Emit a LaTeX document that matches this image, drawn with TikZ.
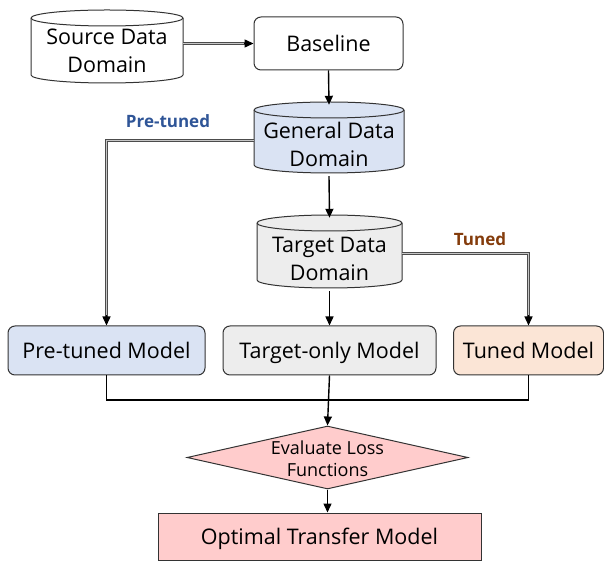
\documentclass[tikz,border=0pt]{standalone}
\usepackage{fontspec}
\setmainfont{Open Sans}
\usetikzlibrary{shapes.geometric,arrows.meta}
\definecolor{cblue}{HTML}{DAE3F3}
\definecolor{cgray}{HTML}{EDEDED}
\definecolor{corange}{HTML}{FBE5D6}
\definecolor{cpink}{HTML}{FFCCCC}
\definecolor{cdblue}{HTML}{2F5597}
\definecolor{cbrown}{HTML}{843C0C}
\tikzset{
  outl/.style={draw=black!80, line width=1pt},
  box/.style={outl, rounded corners=7pt, inner sep=0pt, font=\fontsize{21.5}{28}\selectfont, text height=18pt, text depth=2.6pt},
  cyltext/.style={inner sep=0pt, align=center, font=\fontsize{21.5}{28}\selectfont},
  tip/.style={-{Triangle[length=9pt,width=8pt]}},
  conn/.style={line width=1.4pt, draw=black},
  arr/.style={conn, tip},
  dbl/.style={draw=black!70, line width=1pt, double=gray!45, double distance=1.6pt, shorten >=8pt},
  lbl/.style={inner sep=0pt, font=\fontsize{17}{20}\selectfont\bfseries},
}
\newcommand\mycyl[8]{%
  \pgfmathsetmacro\rx{(#3-#2)/2}%
  \pgfmathsetmacro\cx{(#2+#3)/2}%
  \pgfmathsetmacro\cy{(#4-8+#5)/2+#8}%
  \pgfmathsetmacro\hh{#4-8-#5}%
  \pgfmathsetmacro\ww{#3-#2}%
  \path[outl, fill=#6] (#2,#4-8) -- (#2,#5+8)
     arc[start angle=180, end angle=360, x radius=\rx pt, y radius=8pt]
     -- (#3,#4-8)
     arc[start angle=0, end angle=180, x radius=\rx pt, y radius=8pt] -- cycle;
  \draw[outl] (#2,#4-8) arc[start angle=180, end angle=360, x radius=\rx pt, y radius=8pt];
  \node[cyltext, minimum width=\ww pt, minimum height=\hh pt] (#1) at (\cx,\cy) {#7};
}
\begin{document}
\begin{tikzpicture}[x=1pt,y=1pt]
\useasboundingbox (0,0) rectangle (604,562);
% cylinders
\mycyl{src}{31}{183}{552}{479}{white}{Source Data\\Domain}{0}
\mycyl{gen}{254}{404}{460}{389}{cblue}{General Data\\Domain}{-3}
\mycyl{tgt}{257}{402}{347}{274}{cgray}{Target Data\\Domain}{-3}
% boxes
\node[box, fill=white, minimum width=149pt, minimum height=53pt] (base) at (328.5,518.5) {Baseline};
\node[box, fill=cblue, minimum width=197pt, minimum height=49pt] (pre) at (106.5,211.5) {Pre-tuned Model};
\node[box, fill=corange, minimum width=150pt, minimum height=49pt] (tuned) at (528.5,211.5) {Tuned Model};
\node[box, fill=cgray, minimum width=213pt, minimum height=49pt] (tonly) at (329.5,211.5) {Target-only Model};
\node[outl, fill=cpink, diamond, inner sep=0pt, minimum width=281pt, minimum height=63pt,
      font=\fontsize{18}{22}\selectfont] (eval) at (327.5,104.5)
      {\smash{\makebox[0pt]{\raisebox{-7.5pt}{\begin{tabular}{@{}c@{}}Evaluate Loss\\Functions\end{tabular}}}}};
\node[outl, fill=cpink, inner sep=0pt, minimum width=323pt, minimum height=47pt,
      font=\fontsize{21.5}{28}\selectfont, text height=18pt, text depth=2.6pt] (opt) at (319.5,25.5) {Optimal Transfer Model};
% labels
\node[lbl, text=cdblue] (lpre) at (168,441) {Pre-tuned};
\node[lbl, text=cbrown] (ltuned) at (480,323) {Tuned};
% connectors
\draw[dbl] (src.east |- base.west) -- (base.west);
\draw[arr] ([xshift=-10pt]base.west) -- (base.west);
\draw[arr] (base.south) -- ([yshift=8pt]gen.north);
\draw[arr] (gen.south) -- ([yshift=8pt]tgt.north);
\draw[dbl] ([yshift=4pt]gen.west) -| (pre.north);
\draw[arr] ([yshift=10pt]pre.north) -- (pre.north);
\draw[dbl] ([yshift=5pt]tgt.east) -| (tuned.north);
\draw[arr] ([yshift=10pt]tuned.north) -- (tuned.north);
\draw[arr] (tgt.south) -- (tonly.north);
\coordinate (j) at (329.5,162);
\draw[conn] (pre.south) |- (j) -| (tuned.south);
\draw[arr] (tonly.south) -- (eval.north);
\draw[arr] (eval.south) -- (eval.south |- opt.north);
\end{tikzpicture}
\end{document}
